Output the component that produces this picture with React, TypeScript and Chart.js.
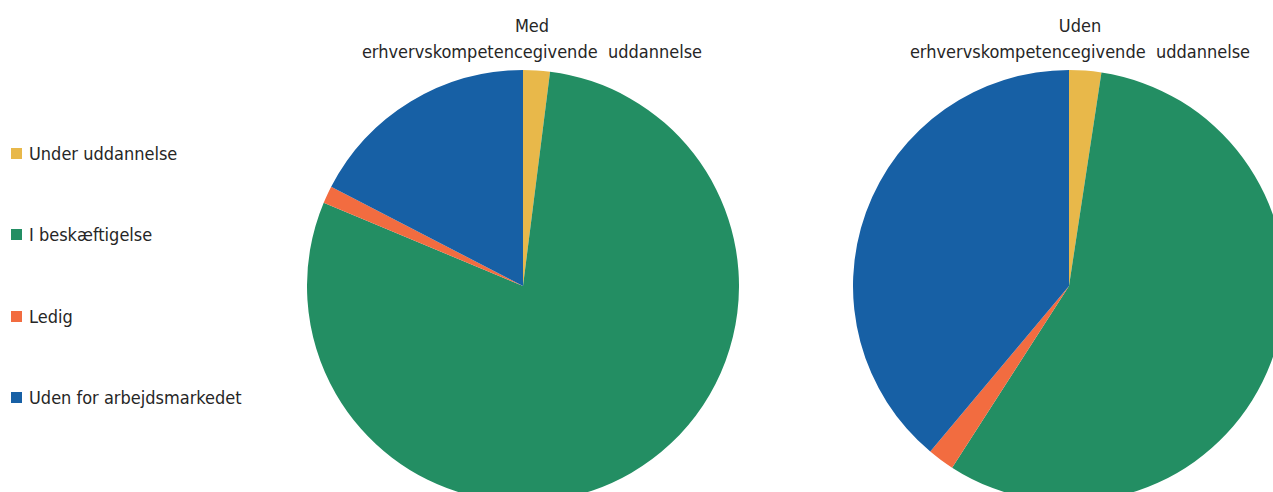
import React, { useEffect, useRef } from "react";
import { Chart, registerables } from "chart.js";

Chart.register(...registerables);

const categories = ["Under uddannelse", "I beskæftigelse", "Ledig", "Uden for arbejdsmarkedet"];
const colors = ["#E8B84A", "#238E63", "#F26C40", "#1760A5"];
const medValues = [2.0, 79.3, 1.3, 17.4];
const udenValues = [2.4, 56.7, 2.0, 38.9];
const titleMed = ["Med", "erhvervskompetencegivende  uddannelse"];
const titleUden = ["Uden", "erhvervskompetencegivende  uddannelse"];

const FONT = "'DejaVu Sans Condensed', 'DejaVu Sans', sans-serif";

function Pie({ values, left }: { values: number[]; left: number }) {
  const ref = useRef<HTMLCanvasElement | null>(null);
  useEffect(() => {
    if (!ref.current) return;
    const chart = new Chart(ref.current, {
      type: "pie",
      data: {
        labels: categories,
        datasets: [
          {
            data: values,
            backgroundColor: colors,
            borderWidth: 0,
          },
        ],
      },
      options: {
        responsive: false,
        animation: false,
        layout: { padding: 0 },
        plugins: {
          legend: { display: false },
          tooltip: { enabled: false },
          title: { display: false },
        },
      },
    });
    return () => chart.destroy();
  }, [values]);
  return (
    <canvas
      ref={ref}
      width={432}
      height={432}
      style={{ position: "absolute", left, top: 70, width: 432, height: 432 }}
    />
  );
}

function Title({ lines, center }: { lines: string[]; center: number }) {
  return (
    <div
      style={{
        position: "absolute",
        left: center - 300,
        width: 600,
        top: 13,
        textAlign: "center",
        fontFamily: FONT,
        fontSize: 18,
        lineHeight: "26px",
        color: "#262626",
        whiteSpace: "pre",
      }}
    >
      {lines.map((l, i) => (
        <div key={i}>{l}</div>
      ))}
    </div>
  );
}

export default function App() {
  const legendTops = [153, 234, 316, 397];
  return (
    <div
      style={{
        position: "absolute",
        left: 0,
        top: 0,
        width: 1273,
        height: 492,
        overflow: "hidden",
        background: "#fff",
      }}
    >
      <Pie values={medValues} left={307} />
      <Pie values={udenValues} left={853} />
      <Title lines={titleMed} center={532} />
      <Title lines={titleUden} center={1080} />
      {categories.map((c, i) => (
        <div
          key={c}
          style={{
            position: "absolute",
            left: 11,
            top: legendTops[i] - 13,
            height: 26,
            display: "flex",
            alignItems: "center",
            fontFamily: FONT,
            fontSize: 18,
            color: "#262626",
            whiteSpace: "pre",
          }}
        >
          <span
            style={{
              display: "inline-block",
              width: 11,
              height: 11,
              background: colors[i],
              marginRight: 7,
            }}
          />
          {c}
        </div>
      ))}
    </div>
  );
}
